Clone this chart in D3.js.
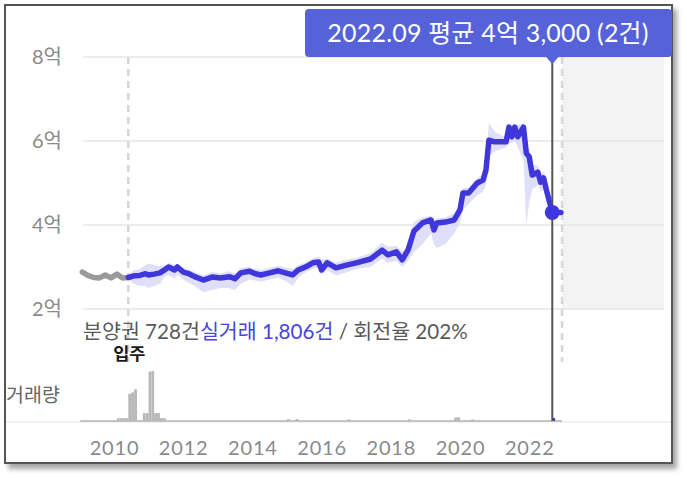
<!DOCTYPE html>
<html><head><meta charset="utf-8">
<script src="https://cdn.jsdelivr.net/npm/d3@7"></script>
<style>
html,body{margin:0;padding:0;background:#fff;}
svg{display:block;font-family:Lato,'Noto Sans CJK KR',sans-serif;}
</style></head>
<body>
<svg id="c" width="687" height="478"></svg>
<script>
// ---- data ----
// 분양권 (pre-sale) period, monthly average price in 억
const presaleDates = ["2009-02","2009-04","2009-06","2009-08","2009-10","2009-12","2010-02","2010-04","2010-06"];
const presaleValues = [2.88,2.80,2.75,2.74,2.81,2.74,2.83,2.74,2.75];

// 실거래 average, low, high (억)
const tradeDates = ["2010-06","2010-08","2010-10","2010-12","2011-01","2011-03","2011-05","2011-07","2011-08","2011-10","2011-11","2012-01","2012-03","2012-05","2012-08","2012-11",
 "2013-02","2013-05","2013-07","2013-09","2013-12","2014-02","2014-04","2014-07","2014-10","2015-01","2015-03","2015-05","2015-08","2015-10","2015-12",
 "2016-01","2016-03","2016-06","2016-10","2017-01","2017-06","2017-10","2017-12","2018-03","2018-05","2018-07",
 "2018-09","2018-12","2019-03","2019-04","2019-05","2019-08","2019-11","2020-01","2020-02","2020-04","2020-07",
 "2020-09","2020-10","2020-11","2021-01","2021-05","2021-06","2021-07","2021-08","2021-09","2021-11","2021-12",
 "2022-01","2022-02","2022-04","2022-05","2022-06","2022-07","2022-09","2022-12"];
const tradeAvg = [2.75,2.79,2.80,2.84,2.81,2.83,2.86,2.95,3.00,2.93,3.00,2.88,2.84,2.77,2.69,2.76,
 2.74,2.77,2.72,2.86,2.90,2.84,2.81,2.86,2.91,2.85,2.81,2.93,3.02,3.10,3.12,
 2.93,3.10,2.98,3.05,3.10,3.19,3.40,3.29,3.36,3.17,3.40,
 3.85,4.05,4.12,3.88,4.05,4.07,4.12,4.36,4.76,4.76,5.00,
 5.07,5.31,6.02,5.98,5.98,6.33,6.10,6.33,6.10,6.33,5.71,
 5.62,5.19,5.26,5.02,5.12,4.83,4.30,4.30];
const tradeLow = [2.70,2.60,2.55,2.55,2.50,2.55,2.60,2.80,2.80,2.72,2.82,2.70,2.62,2.55,2.40,2.45,
 2.50,2.50,2.45,2.60,2.70,2.68,2.65,2.70,2.75,2.65,2.55,2.75,2.90,2.95,2.98,
 2.82,2.92,2.80,2.88,2.96,3.00,3.20,3.10,3.15,3.00,3.15,
 3.35,3.55,3.80,3.55,3.45,3.55,3.80,4.05,4.35,4.50,4.70,
 4.80,4.95,5.65,5.75,5.85,5.95,5.95,6.00,5.85,5.55,4.00,
 4.55,4.85,4.95,4.80,4.85,4.55,4.30,4.30];
const tradeHigh = [2.82,2.92,2.95,3.05,3.08,3.05,3.02,3.05,3.10,3.05,3.08,2.98,2.93,2.88,2.80,2.88,
 2.85,2.90,2.85,2.98,3.00,2.95,2.93,2.98,3.03,2.98,2.95,3.05,3.12,3.20,3.25,
 3.18,3.20,3.10,3.18,3.22,3.33,3.58,3.48,3.50,3.38,3.52,
 4.08,4.18,4.22,4.08,4.15,4.18,4.28,4.52,4.88,4.88,5.12,
 5.22,5.62,6.43,6.22,6.08,6.40,6.38,6.40,6.38,6.40,5.92,
 5.78,5.42,5.42,5.18,5.28,5.02,4.30,4.30];

// monthly trade volume (건)
const volDates = ["2010-02","2010-03","2010-04","2010-05","2010-06","2010-07","2010-08","2010-11","2010-12","2011-01","2011-02",
 "2011-03","2011-04","2011-05","2011-06","2015-01","2015-04","2016-10","2018-07","2019-11","2019-12","2020-05","2022-09"];
const volCounts = [45,45,45,45,430,450,500,125,125,780,790,125,125,45,45,30,30,25,25,55,60,25,2];

const yTicks = [2,4,6,8];
const xTickYears = [2010,2012,2014,2016,2018,2020,2022];
const moveInDate = "2010-06";
const todayDate = "2022-12-13";
const selectedDate = "2022-09";
const selectedAvg = 4.30;
const tooltipText = "2022.09 평균 4억 3,000 (2건)";
const statPresale = "분양권 728건";
const statTrade = "실거래 1,806건";
const statRate = " / 회전율 202%";

// ---- drawing ----
const pm = d3.timeParse("%Y-%m"), pd = d3.timeParse("%Y-%m-%d");
const svg = d3.select("#c");
const defs = svg.append("defs");
const f = defs.append("filter").attr("id","sh").attr("x","-5%").attr("y","-5%").attr("width","115%").attr("height","115%");
f.append("feDropShadow").attr("dx",4).attr("dy",5).attr("stdDeviation",2.5).attr("flood-color","#000").attr("flood-opacity",0.35);

svg.append("rect").attr("x",5).attr("y",5).attr("width",667).attr("height",458)
  .attr("fill","#fff").attr("stroke","#555").attr("stroke-width",2).attr("filter","url(#sh)");

const x = d3.scaleTime().domain([pd("2009-02-08"), pd("2025-11-23")]).range([83, 664]);
const y = d3.scaleLinear().domain([0, 8]).range([393, 57]);
const yv = d3.scaleLinear().domain([0, 790]).range([421, 371]);

// future shaded region
svg.append("rect").attr("x", x(pd(todayDate))).attr("y", y(8))
  .attr("width", 664 - x(pd(todayDate))).attr("height", y(2) - y(8)).attr("fill","#f3f3f3");

// grid + y labels
const yg = svg.append("g");
yTicks.forEach(t => {
  yg.append("line").attr("x1",83).attr("x2",664).attr("y1",y(t)).attr("y2",y(t))
    .attr("stroke","#e6e6e6").attr("stroke-width",1.5);
  yg.append("text").attr("x",62).attr("y",y(t)).attr("dy","0.36em").attr("text-anchor","end")
    .attr("font-size",20).attr("fill","#8a8a8a").text(t + "억");
});

// dashed lines
svg.append("line").attr("x1",x(pm(moveInDate))).attr("x2",x(pm(moveInDate))).attr("y1",y(8)).attr("y2",362)
  .attr("stroke","#d6d6d6").attr("stroke-width",2.5).attr("stroke-dasharray","7,5");
svg.append("line").attr("x1",x(pd(todayDate))).attr("x2",x(pd(todayDate))).attr("y1",y(8)).attr("y2",362)
  .attr("stroke","#d6d6d6").attr("stroke-width",2.5).attr("stroke-dasharray","7,5");

// band
const trade = tradeDates.map((d,i)=>({d:pm(d), v:tradeAvg[i], lo:tradeLow[i], hi:tradeHigh[i]}));
svg.append("path").datum(trade)
  .attr("d", d3.area().x(d=>x(d.d)).y0(d=>y(d.lo)).y1(d=>y(d.hi)))
  .attr("fill","#dcdcf8").attr("opacity",0.9);

// presale line
const pre = presaleDates.map((d,i)=>({d:pm(d), v:presaleValues[i]}));
svg.append("path").datum(pre).attr("d", d3.line().x(d=>x(d.d)).y(d=>y(d.v)))
  .attr("fill","none").attr("stroke","#9a9a9a").attr("stroke-width",5.5).attr("stroke-linejoin","round").attr("stroke-linecap","round");

// trade line
svg.append("path").datum(trade).attr("d", d3.line().x(d=>x(d.d)).y(d=>y(d.v)))
  .attr("fill","none").attr("stroke","#3f37dc").attr("stroke-width",5.5).attr("stroke-linejoin","round").attr("stroke-linecap","round");

// separator + volume baseline
svg.append("line").attr("x1",6).attr("x2",671).attr("y1",422).attr("y2",422).attr("stroke","#ececec").attr("stroke-width",1.5);
svg.append("line").attr("x1",x(pm(presaleDates[0]))-2).attr("x2",x(pd(todayDate))).attr("y1",421).attr("y2",421)
  .attr("stroke","#c4c4c4").attr("stroke-width",2);

// volume bars
const vol = volDates.map((d,i)=>({d:pm(d), c:volCounts[i], sel: d===selectedDate}));
svg.append("g").selectAll("rect").data(vol).join("rect")
  .attr("x", d=>x(d.d))
  .attr("width", d=>x(d3.timeMonth.offset(d.d,1)) - x(d.d))
  .attr("y", d=> d.sel ? 418 : yv(d.c))
  .attr("height", d=> d.sel ? 3 : 421 - yv(d.c))
  .attr("fill", d=> d.sel ? "#3f37dc" : "#b9b9b9");

// x axis
const xa = svg.append("g").attr("transform","translate(0,438)")
  .call(d3.axisBottom(x).tickValues(xTickYears.map(yr=>new Date(yr,0,1))).tickFormat(d3.timeFormat("%Y")).tickSize(0));
xa.select(".domain").remove();
xa.selectAll("text").attr("font-size",20).attr("letter-spacing","0.8px").attr("fill","#8a8a8a")
  .attr("font-family","Lato,'Noto Sans CJK KR',sans-serif").attr("dy","0.71em");

// labels
const st = svg.append("text").attr("x",83).attr("y",339).attr("font-size",20.6);
st.append("tspan").attr("fill","#5a5a5a").text(statPresale);
st.append("tspan").attr("fill","#4a44e0").text(statTrade);
st.append("tspan").attr("fill","#5a5a5a").text(statRate);
svg.append("text").attr("x",x(pm(moveInDate))+1).attr("y",360).attr("text-anchor","middle")
  .attr("font-size",17.5).attr("font-weight","bold").attr("fill","#1a1a1a").text("입주");
svg.append("text").attr("x",6).attr("y",402).attr("font-size",19.5).attr("fill","#666").text("거래량");

// cursor
const cx = x(pm(selectedDate));
svg.append("line").attr("x1",cx).attr("x2",cx).attr("y1",60).attr("y2",421).attr("stroke","#555").attr("stroke-width",2);
svg.append("circle").attr("cx",cx).attr("cy",y(selectedAvg)).attr("r",7.5).attr("fill","#3f37dc");

// tooltip
svg.append("rect").attr("x",305).attr("y",9).attr("width",367).attr("height",48).attr("rx",4).attr("fill","#5562d9");
svg.append("path").attr("d",`M${cx-7},56 L${cx+7},56 L${cx},64 Z`).attr("fill","#5562d9");
svg.append("text").attr("x",488).attr("y",33).attr("dy","0.36em").attr("text-anchor","middle")
  .attr("font-size",25).attr("letter-spacing","0.2px").attr("fill","#fff").text(tooltipText);
</script>
</body></html>
